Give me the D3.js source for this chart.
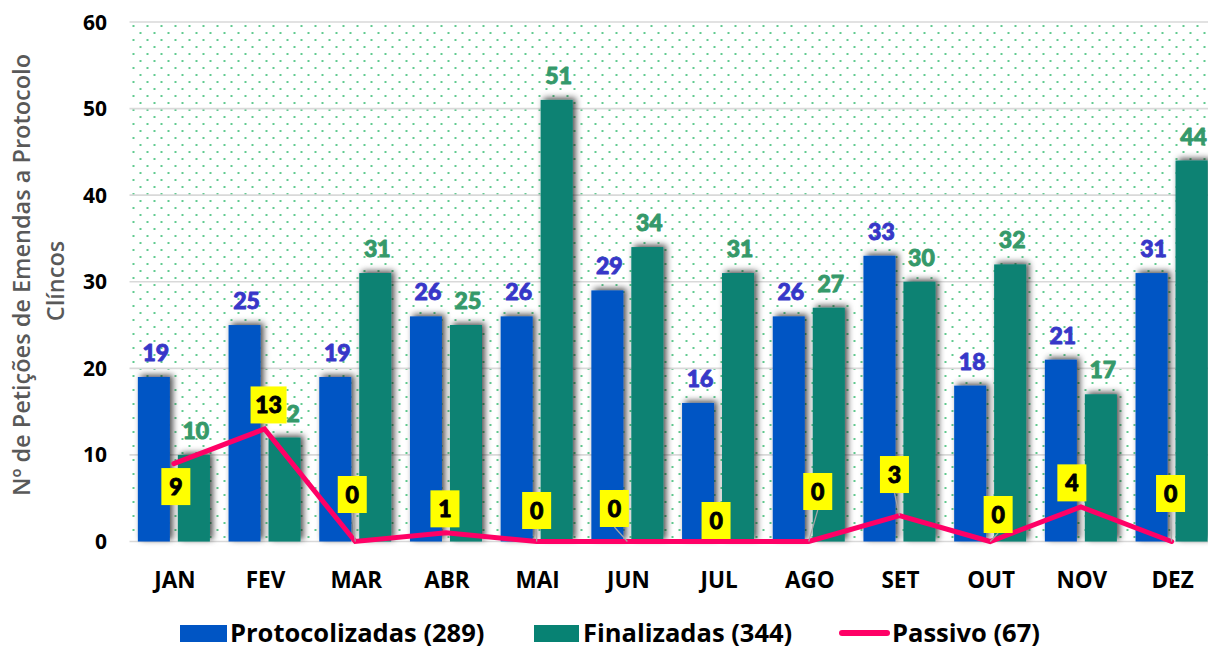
<!DOCTYPE html>
<html>
<head>
<meta charset="utf-8">
<script src="https://cdn.jsdelivr.net/npm/d3@7/dist/d3.min.js"></script>
<style>
  html, body { margin: 0; padding: 0; background: #fff; }
  svg { display: block; }
</style>
</head>
<body>
<svg id="chart" width="1208" height="648"></svg>
<script>
// ---- data ----
const months = ["JAN","FEV","MAR","ABR","MAI","JUN","JUL","AGO","SET","OUT","NOV","DEZ"];
const protocolizadas = [19,25,19,26,26,29,16,26,33,18,21,31];
const finalizadas = [10,12,31,25,51,34,31,27,30,32,17,44];
const passivo = [9,13,0,1,0,0,0,0,3,0,4,0];
const yTicks = [0,10,20,30,40,50,60];
const legendLabels = ["Protocolizadas (289)", "Finalizadas (344)", "Passivo (67)"];
// manual label offsets (px) of the Passivo labels relative to their points
const passivoLabelOffsets = [[2,23],[4,-24],[-3,-47],[-1,-24],[0,-31],[-13,-33],[-2,-21],[9,-50],[-5,-41],[8,-27],[-9,-24],[-1,-48]];

// ---- layout ----
const svg = d3.select("#chart");
const plot = { left: 128.5, top: 22, bottom: 541.5, width: 1088.4 };
const colBlue = "#0055C4", colGreen = "#078273", colPink = "#FF0066";
const labelFont = "Lato, 'Open Sans', sans-serif";

const x = d3.scaleBand().domain(months).range([plot.left, plot.left + plot.width]).paddingInner(0).paddingOuter(0);
const x1 = d3.scaleBand().domain(["p","f"]).range([0, x.bandwidth()]).paddingInner(0.2).paddingOuter(0.234);
const y = d3.scaleLinear().domain([0,60]).range([plot.bottom, plot.top]);

const defs = svg.append("defs");
const pat = defs.append("pattern").attr("id","dots").attr("patternUnits","userSpaceOnUse")
  .attr("width",14).attr("height",14).attr("x",plot.left+4).attr("y",plot.top+3);
pat.append("circle").attr("cx",1).attr("cy",1).attr("r",0.95).attr("fill","#1DB460");
pat.append("circle").attr("cx",8).attr("cy",8).attr("r",0.95).attr("fill","#1DB460");

const f = defs.append("filter").attr("id","shadow").attr("x","-40%").attr("y","-10%").attr("width","190%").attr("height","120%");
f.append("feDropShadow").attr("dx",3).attr("dy",-2).attr("stdDeviation",3.2).attr("flood-color","#000").attr("flood-opacity",0.7);

// background
svg.append("rect").attr("x",plot.left+1).attr("y",plot.top).attr("width",plot.width).attr("height",plot.bottom-plot.top)
  .attr("fill","url(#dots)");

// gridlines
svg.append("g").selectAll("line").data(yTicks).join("line")
  .attr("x1",plot.left+1).attr("x2",plot.left+plot.width)
  .attr("y1",d=>y(d)).attr("y2",d=>y(d))
  .attr("stroke","#d9d9d9").attr("stroke-width",1.6);

// y tick labels
svg.append("g").selectAll("text").data(yTicks).join("text")
  .attr("x",107).attr("y",d=>y(d)).attr("dy","0.36em")
  .attr("text-anchor","end")
  .style("font-family","'Open Sans', sans-serif").style("font-weight",700).style("font-size","21px")
  .attr("fill","#000").text(d=>d);

// y title
const yt = svg.append("g").attr("transform","translate(0,275) rotate(-90)");
yt.append("text").attr("x",0).attr("y",30).attr("text-anchor","middle")
  .style("font-family","'Open Sans', sans-serif").style("font-weight",600).style("font-size","23.5px")
  .attr("fill","#595959").text("Nº de Petições de Emendas a Protocolo");
yt.append("text").attr("x",-6).attr("y",64).attr("text-anchor","middle")
  .style("font-family","'Open Sans', sans-serif").style("font-weight",600).style("font-size","23.5px")
  .attr("fill","#595959").text("Clíncos");

// bars
const series = [
  { key:"p", values: protocolizadas, color: colBlue, labelColor:"#3737C8" },
  { key:"f", values: finalizadas, color: colGreen, labelColor:"#35996A" }
];
const barsG = svg.append("g");
series.forEach(s => {
  barsG.append("g").attr("filter","url(#shadow)").selectAll("rect").data(s.values).join("rect")
    .attr("x",(d,i)=>x(months[i]) + x1(s.key))
    .attr("width",x1.bandwidth())
    .attr("y",d=>y(d)).attr("height",d=>y(0)-y(d))
    .attr("fill",s.color);
});
// bar labels
series.forEach(s => {
  svg.append("g").selectAll("text").data(s.values).join("text")
    .attr("x",(d,i)=>x(months[i]) + x1(s.key) + x1.bandwidth()/2 + 2)
    .attr("y",d=>y(d) - 16)
    .attr("text-anchor","middle")
    .style("font-family",labelFont).style("font-weight",900).style("font-size","23px")
    .attr("fill",s.labelColor).attr("stroke",s.labelColor).attr("stroke-width",0.9)
    .attr("stroke-linejoin","round").text(d=>d);
});

// x labels
svg.append("g").selectAll("text").data(months).join("text")
  .attr("x",d=>x(d)+x.bandwidth()/2 + 1).attr("y",588)
  .attr("text-anchor","middle")
  .style("font-family","'Open Sans', sans-serif").style("font-weight",700).style("font-size","22.5px")
  .attr("fill","#000").text(d=>d);

// passivo line
const cx = i => x(months[i]) + x.bandwidth()/2;
const line = d3.line().x((d,i)=>cx(i)).y(d=>y(d));
svg.append("path").datum(passivo).attr("d",line)
  .attr("fill","none").attr("stroke",colPink).attr("stroke-width",5)
  .attr("stroke-linejoin","miter").attr("stroke-linecap","round");

// passivo labels
const lg = svg.append("g");
passivo.forEach((v,i) => {
  const px = cx(i), py = y(v);
  const [dx,dy] = passivoLabelOffsets[i];
  const bx = px + dx, by = py + dy;
  const txt = String(v);
  const w = txt.length > 1 ? 36 : 29, h = 37;
  if (dy < -26) {
    lg.append("line").attr("x1",bx).attr("y1",by + h/2).attr("x2",px).attr("y2",py)
      .attr("stroke","#a6a6a6").attr("stroke-width",1.2);
  }
  lg.append("rect").attr("x",bx - w/2).attr("y",by - h/2).attr("width",w).attr("height",h).attr("fill","#FFFF00");
  lg.append("text").attr("x",bx).attr("y",by).attr("dy","0.36em").attr("text-anchor","middle")
    .style("font-family",labelFont).style("font-weight",900).style("font-size","23px")
    .attr("fill","#000").attr("stroke","#000").attr("stroke-width",0.9).attr("stroke-linejoin","round").text(txt);
});

// legend
const leg = svg.append("g");
const legY = 633;
const legFont = s => s.style("font-family","'Open Sans', sans-serif").style("font-weight",700).style("font-size","25.5px");
leg.append("rect").attr("x",180).attr("y",legY-8).attr("width",47).attr("height",17).attr("fill",colBlue);
leg.append("text").attr("x",230).attr("y",legY).attr("dy","0.36em").call(legFont).text(legendLabels[0]);
leg.append("rect").attr("x",534).attr("y",legY-8).attr("width",45).attr("height",17).attr("fill",colGreen);
leg.append("text").attr("x",583).attr("y",legY).attr("dy","0.36em").call(legFont).text(legendLabels[1]);
leg.append("line").attr("x1",842).attr("x2",887).attr("y1",legY).attr("y2",legY)
  .attr("stroke",colPink).attr("stroke-width",6).attr("stroke-linecap","round");
leg.append("text").attr("x",892).attr("y",legY).attr("dy","0.36em").call(legFont).text(legendLabels[2]);
</script>
</body>
</html>
